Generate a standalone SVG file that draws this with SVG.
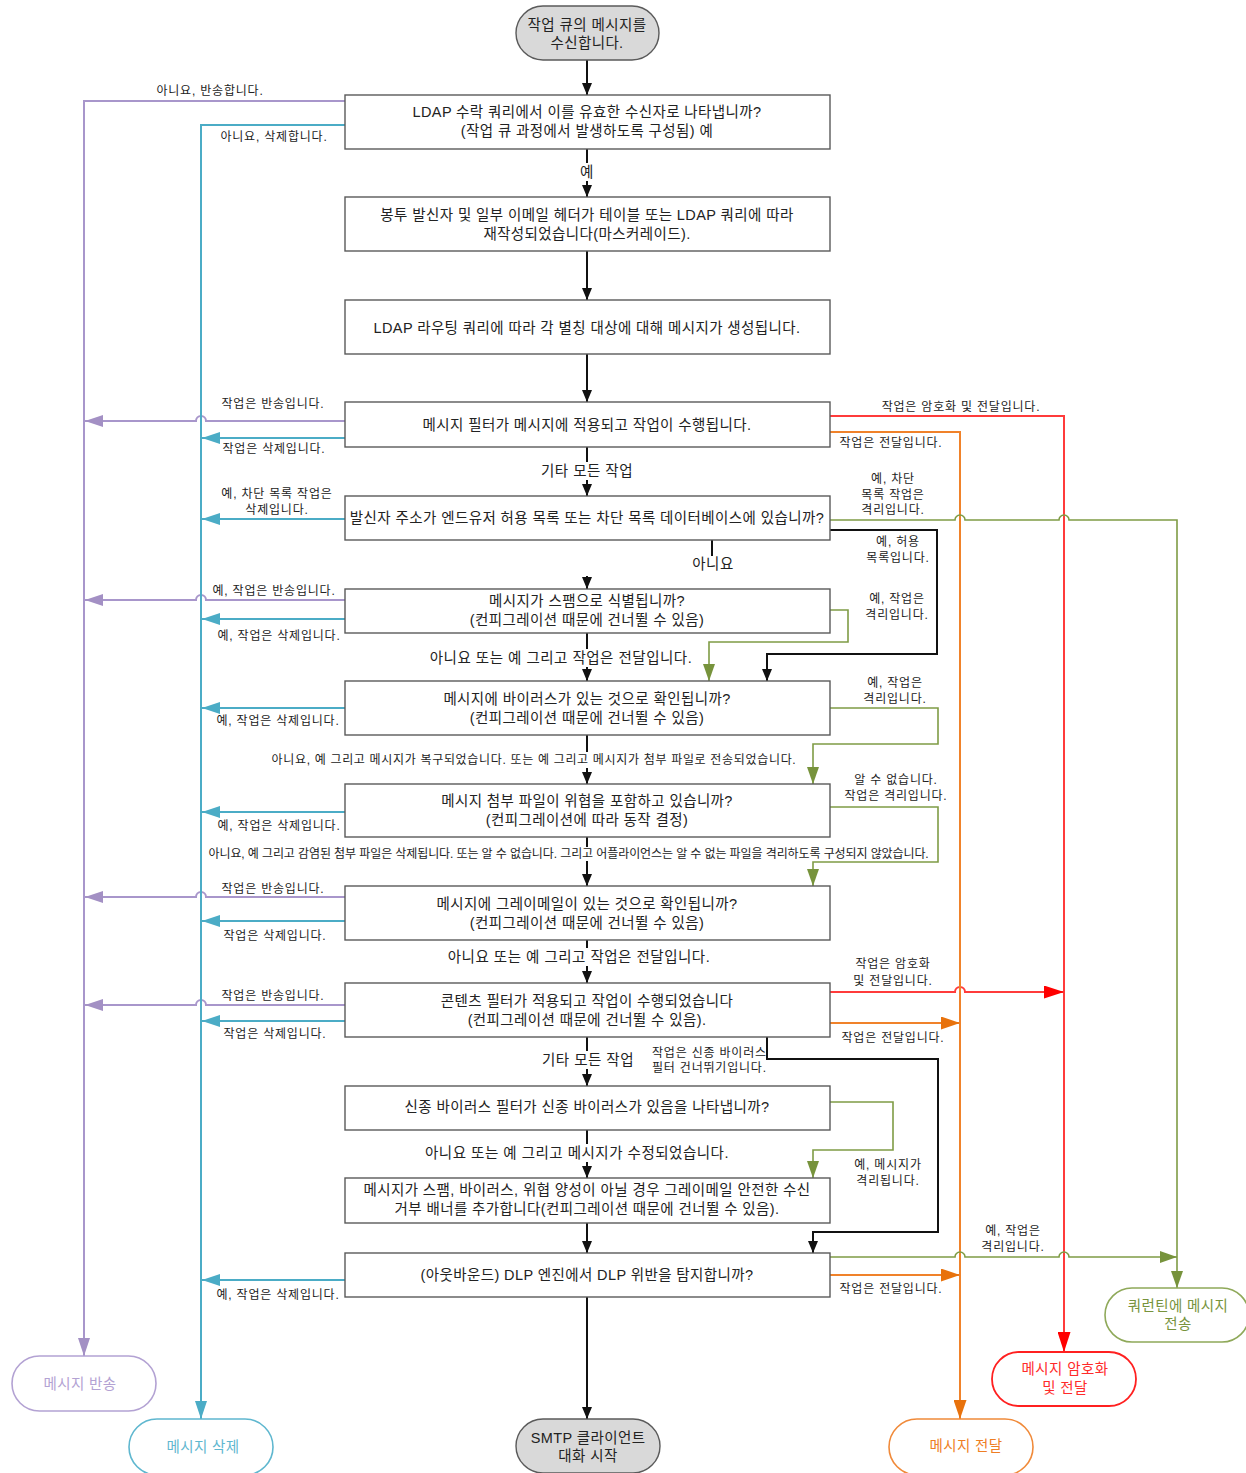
<svg xmlns="http://www.w3.org/2000/svg" width="1246" height="1473" viewBox="0 0 1246 1473">
  <style>
    text { font-family: "Liberation Sans", "Noto Sans CJK KR", sans-serif; fill: #222; }
    .box { fill: #fff; stroke: #5a5a5a; stroke-width: 1.4; }
    .term { fill: #d9d9d9; stroke: #5a5a5a; stroke-width: 1.4; }
    .t { font-size: 14.5px; letter-spacing: 0.4px; text-anchor: middle; }
    .lbl { font-size: 12px; letter-spacing: 0.8px; }
    .mid { font-size: 14.5px; letter-spacing: 0.5px; text-anchor: middle; }
    .c { text-anchor: middle; }
    .bg { fill: #fff; }
    .k { fill: none; stroke: #111; stroke-width: 2; }
    .pu { fill: none; stroke: #a896cb; stroke-width: 2; }
    .bl { fill: none; stroke: #4bacc6; stroke-width: 2; }
    .rd { fill: none; stroke: #ff3b3b; stroke-width: 2; }
    .or { fill: none; stroke: #f0822a; stroke-width: 2; }
    .gr { fill: none; stroke: #7f9c45; stroke-width: 1.6; }
  </style>
  <defs>
    <marker id="aK" markerUnits="userSpaceOnUse" markerWidth="12" markerHeight="10" refX="12" refY="5" orient="auto">
      <path d="M0,0 L12,5 L0,10 z" fill="#111"/>
    </marker>
    <marker id="aP" markerUnits="userSpaceOnUse" markerWidth="18" markerHeight="12" refX="18" refY="6" orient="auto">
      <path d="M0,0 L18,6 L0,12 z" fill="#a390c4"/>
    </marker>
    <marker id="aB" markerUnits="userSpaceOnUse" markerWidth="18" markerHeight="12" refX="18" refY="6" orient="auto">
      <path d="M0,0 L18,6 L0,12 z" fill="#4bacc6"/>
    </marker>
    <marker id="aR" markerUnits="userSpaceOnUse" markerWidth="20" markerHeight="13" refX="20" refY="6.5" orient="auto">
      <path d="M0,0 L20,6.5 L0,13 z" fill="#ff0000"/>
    </marker>
    <marker id="aO" markerUnits="userSpaceOnUse" markerWidth="19" markerHeight="13" refX="19" refY="6.5" orient="auto">
      <path d="M0,0 L19,6.5 L0,13 z" fill="#e8720c"/>
    </marker>
    <marker id="aG" markerUnits="userSpaceOnUse" markerWidth="17" markerHeight="12" refX="17" refY="6" orient="auto">
      <path d="M0,0 L17,6 L0,12 z" fill="#77933c"/>
    </marker>
  </defs>

  <rect width="1246" height="1473" fill="#fff"/>

  <!-- connectors -->
  <g id="connectors">
    <!-- main flow (black) -->
    <path class="k" d="M587,60 V95" marker-end="url(#aK)"/>
    <path class="k" d="M587,149 V197" marker-end="url(#aK)"/>
    <path class="k" d="M587,251 V300" marker-end="url(#aK)"/>
    <path class="k" d="M587,354 V402" marker-end="url(#aK)"/>
    <path class="k" d="M587,447 V496" marker-end="url(#aK)"/>
    <path class="k" d="M712,540 V556"/>
    <path class="k" d="M587,576 V589" marker-end="url(#aK)"/>
    <path class="k" d="M587,633 V681" marker-end="url(#aK)"/>
    <path class="k" d="M587,735 V784" marker-end="url(#aK)"/>
    <path class="k" d="M587,837 V886" marker-end="url(#aK)"/>
    <path class="k" d="M587,940 V983" marker-end="url(#aK)"/>
    <path class="k" d="M587,1037 V1086" marker-end="url(#aK)"/>
    <path class="k" d="M587,1130 V1178" marker-end="url(#aK)"/>
    <path class="k" d="M587,1223 V1253" marker-end="url(#aK)"/>
    <path class="k" d="M587,1297 V1419" marker-end="url(#aK)"/>
    <!-- allow list: skip spam check -->
    <path class="k" d="M830,530 H937 V654 H767 V681" marker-end="url(#aK)"/>
    <!-- skip outbreak filter -->
    <path class="k" d="M767,1037 V1059 H938 V1232 H813 V1253" marker-end="url(#aK)"/>

    <!-- bounce (purple) -->
    <path class="pu" d="M345,101 H84 V1356" marker-end="url(#aP)"/>
    <path class="pu" d="M345,421 H206 A5,5 0 0 0 196,421 H85" marker-end="url(#aP)"/>
    <path class="pu" d="M345,600 H206 A5,5 0 0 0 196,600 H85" marker-end="url(#aP)"/>
    <path class="pu" d="M345,897 H206 A5,5 0 0 0 196,897 H85" marker-end="url(#aP)"/>
    <path class="pu" d="M345,1005 H206 A5,5 0 0 0 196,1005 H85" marker-end="url(#aP)"/>

    <!-- delete (blue) -->
    <path class="bl" d="M345,125 H201 V1419" marker-end="url(#aB)"/>
    <path class="bl" d="M345,438 H202" marker-end="url(#aB)"/>
    <path class="bl" d="M345,519 H202" marker-end="url(#aB)"/>
    <path class="bl" d="M345,619 H202" marker-end="url(#aB)"/>
    <path class="bl" d="M345,708 H202" marker-end="url(#aB)"/>
    <path class="bl" d="M345,812 H202" marker-end="url(#aB)"/>
    <path class="bl" d="M345,921 H202" marker-end="url(#aB)"/>
    <path class="bl" d="M345,1021 H202" marker-end="url(#aB)"/>
    <path class="bl" d="M345,1280 H202" marker-end="url(#aB)"/>

    <!-- encrypt and deliver (red) -->
    <path class="rd" d="M830,416 H1064 V1352" marker-end="url(#aR)"/>
    <path class="rd" d="M830,992 H955 A5,5 0 0 1 965,992 H1064" marker-end="url(#aR)"/>

    <!-- deliver (orange) -->
    <path class="or" d="M830,432 H960 V1419" marker-end="url(#aO)"/>
    <path class="or" d="M830,1023 H960" marker-end="url(#aO)"/>
    <path class="or" d="M830,1275 H960" marker-end="url(#aO)"/>

    <!-- quarantine (green) -->
    <path class="gr" d="M830,520 H955 A5,5 0 0 1 965,520 H1059 A5,5 0 0 1 1069,520 H1177 V1288" marker-end="url(#aG)"/>
    <path class="gr" d="M830,610 H848 V642 H709 V681" marker-end="url(#aG)"/>
    <path class="gr" d="M830,708 H938 V744 H813 V784" marker-end="url(#aG)"/>
    <path class="gr" d="M830,807 H938 V862 H813 V886" marker-end="url(#aG)"/>
    <path class="gr" d="M830,1102 H893 V1150 H813 V1178" marker-end="url(#aG)"/>
    <path class="gr" d="M830,1257 H955 A5,5 0 0 1 965,1257 H1059 A5,5 0 0 1 1069,1257 H1177" marker-end="url(#aG)"/>

    <!-- connector labels: main flow -->
    <rect class="bg" x="579" y="163" width="16" height="18"/>
    <text class="mid" x="587" y="177">예</text>
    <rect class="bg" x="538" y="462" width="100" height="18"/>
    <text class="mid" x="587" y="476">기타 모든 작업</text>
    <text class="mid" x="713" y="569">아니요</text>
    <rect class="bg" x="427" y="649" width="268" height="18"/>
    <text class="mid" x="561" y="663">아니요 또는 예 그리고 작업은 전달입니다.</text>
    <rect class="bg" x="268" y="752" width="533" height="16"/>
    <text class="lbl c" x="534" y="764" textLength="525" lengthAdjust="spacing">아니요, 예 그리고 메시지가 복구되었습니다. 또는 예 그리고 메시지가 첨부 파일로 전송되었습니다.</text>
    <rect class="bg" x="206" y="847" width="727" height="14"/>
    <text class="lbl c" x="569" y="858" textLength="721" lengthAdjust="spacing">아니요, 예 그리고 감염된 첨부 파일은 삭제됩니다. 또는 알 수 없습니다. 그리고 어플라이언스는 알 수 없는 파일을 격리하도록 구성되지 않았습니다.</text>
    <rect class="bg" x="445" y="948" width="268" height="18"/>
    <text class="mid" x="579" y="962">아니요 또는 예 그리고 작업은 전달입니다.</text>
    <rect class="bg" x="538" y="1051" width="100" height="18"/>
    <text class="mid" x="588" y="1065">기타 모든 작업</text>
    <rect class="bg" x="423" y="1144" width="309" height="18"/>
    <text class="mid" x="577" y="1158">아니요 또는 예 그리고 메시지가 수정되었습니다.</text>

    <!-- connector labels: left side -->
    <text class="lbl c" x="210" y="95">아니요, 반송합니다.</text>
    <text class="lbl c" x="274" y="141">아니요, 삭제합니다.</text>
    <text class="lbl c" x="273" y="408">작업은 반송입니다.</text>
    <text class="lbl c" x="274" y="453">작업은 삭제입니다.</text>
    <text class="lbl c" x="277" y="498">예, 차단 목록 작업은</text>
    <text class="lbl c" x="277" y="514">삭제입니다.</text>
    <text class="lbl c" x="274" y="595">예, 작업은 반송입니다.</text>
    <text class="lbl c" x="279" y="640">예, 작업은 삭제입니다.</text>
    <text class="lbl c" x="278" y="725">예, 작업은 삭제입니다.</text>
    <text class="lbl c" x="279" y="830">예, 작업은 삭제입니다.</text>
    <text class="lbl c" x="273" y="893">작업은 반송입니다.</text>
    <text class="lbl c" x="275" y="940">작업은 삭제입니다.</text>
    <text class="lbl c" x="273" y="1000">작업은 반송입니다.</text>
    <text class="lbl c" x="275" y="1038">작업은 삭제입니다.</text>
    <text class="lbl c" x="278" y="1299">예, 작업은 삭제입니다.</text>

    <!-- connector labels: right side -->
    <text class="lbl c" x="961" y="411">작업은 암호화 및 전달입니다.</text>
    <text class="lbl c" x="891" y="447">작업은 전달입니다.</text>
    <text class="lbl c" x="893" y="483">예, 차단</text>
    <text class="lbl c" x="893" y="499">목록 작업은</text>
    <text class="lbl c" x="893" y="514">격리입니다.</text>
    <text class="lbl c" x="898" y="546">예, 허용</text>
    <text class="lbl c" x="898" y="562">목록입니다.</text>
    <text class="lbl c" x="897" y="603">예, 작업은</text>
    <text class="lbl c" x="897" y="619">격리입니다.</text>
    <text class="lbl c" x="895" y="687">예, 작업은</text>
    <text class="lbl c" x="895" y="703">격리입니다.</text>
    <text class="lbl c" x="896" y="784">알 수 없습니다.</text>
    <text class="lbl c" x="896" y="800">작업은 격리입니다.</text>
    <text class="lbl c" x="893" y="968">작업은 암호화</text>
    <text class="lbl c" x="893" y="985">및 전달입니다.</text>
    <text class="lbl c" x="893" y="1042">작업은 전달입니다.</text>
    <text class="lbl" x="652" y="1057">작업은 신종 바이러스</text>
    <text class="lbl" x="652" y="1072">필터 건너뛰기입니다.</text>
    <text class="lbl c" x="888" y="1169">예, 메시지가</text>
    <text class="lbl c" x="888" y="1185">격리됩니다.</text>
    <text class="lbl c" x="1013" y="1235">예, 작업은</text>
    <text class="lbl c" x="1013" y="1251">격리입니다.</text>
    <text class="lbl c" x="891" y="1293">작업은 전달입니다.</text>
  </g>

  <!-- nodes -->
  <g id="start">
    <rect class="term" x="516" y="6" width="143" height="54" rx="27"/>
    <text class="t" x="587" y="30">작업 큐의 메시지를</text>
    <text class="t" x="587" y="48">수신합니다.</text>
  </g>
  <g id="ldap-accept">
    <rect class="box" x="345" y="95" width="485" height="54"/>
    <text class="t" x="587" y="117">LDAP 수락 쿼리에서 이를 유효한 수신자로 나타냅니까?</text>
    <text class="t" x="587" y="136">(작업 큐 과정에서 발생하도록 구성됨) 예</text>
  </g>
  <g id="masquerade">
    <rect class="box" x="345" y="197" width="485" height="54"/>
    <text class="t" x="587" y="220">봉투 발신자 및 일부 이메일 헤더가 테이블 또는 LDAP 쿼리에 따라</text>
    <text class="t" x="587" y="239">재작성되었습니다(마스커레이드).</text>
  </g>
  <g id="ldap-routing">
    <rect class="box" x="345" y="300" width="485" height="54"/>
    <text class="t" x="587" y="333">LDAP 라우팅 쿼리에 따라 각 별칭 대상에 대해 메시지가 생성됩니다.</text>
  </g>
  <g id="message-filter">
    <rect class="box" x="345" y="402" width="485" height="45"/>
    <text class="t" x="587" y="430">메시지 필터가 메시지에 적용되고 작업이 수행됩니다.</text>
  </g>
  <g id="safelist-blocklist">
    <rect class="box" x="345" y="496" width="485" height="44"/>
    <text class="t" x="587" y="523">발신자 주소가 엔드유저 허용 목록 또는 차단 목록 데이터베이스에 있습니까?</text>
  </g>
  <g id="antispam">
    <rect class="box" x="345" y="589" width="485" height="44"/>
    <text class="t" x="587" y="606">메시지가 스팸으로 식별됩니까?</text>
    <text class="t" x="587" y="625">(컨피그레이션 때문에 건너뛸 수 있음)</text>
  </g>
  <g id="antivirus">
    <rect class="box" x="345" y="681" width="485" height="54"/>
    <text class="t" x="587" y="704">메시지에 바이러스가 있는 것으로 확인됩니까?</text>
    <text class="t" x="587" y="723">(컨피그레이션 때문에 건너뛸 수 있음)</text>
  </g>
  <g id="amp">
    <rect class="box" x="345" y="784" width="485" height="53"/>
    <text class="t" x="587" y="806">메시지 첨부 파일이 위협을 포함하고 있습니까?</text>
    <text class="t" x="587" y="825">(컨피그레이션에 따라 동작 결정)</text>
  </g>
  <g id="graymail">
    <rect class="box" x="345" y="886" width="485" height="54"/>
    <text class="t" x="587" y="909">메시지에 그레이메일이 있는 것으로 확인됩니까?</text>
    <text class="t" x="587" y="928">(컨피그레이션 때문에 건너뛸 수 있음)</text>
  </g>
  <g id="content-filter">
    <rect class="box" x="345" y="983" width="485" height="54"/>
    <text class="t" x="587" y="1006">콘텐츠 필터가 적용되고 작업이 수행되었습니다</text>
    <text class="t" x="587" y="1025">(컨피그레이션 때문에 건너뛸 수 있음).</text>
  </g>
  <g id="outbreak-filter">
    <rect class="box" x="345" y="1086" width="485" height="44"/>
    <text class="t" x="587" y="1112">신종 바이러스 필터가 신종 바이러스가 있음을 나타냅니까?</text>
  </g>
  <g id="graymail-banner">
    <rect class="box" x="345" y="1178" width="485" height="45"/>
    <text class="t" x="587" y="1195">메시지가 스팸, 바이러스, 위협 양성이 아닐 경우 그레이메일 안전한 수신</text>
    <text class="t" x="587" y="1214">거부 배너를 추가합니다(컨피그레이션 때문에 건너뛸 수 있음).</text>
  </g>
  <g id="dlp">
    <rect class="box" x="345" y="1253" width="485" height="44"/>
    <text class="t" x="587" y="1280">(아웃바운드) DLP 엔진에서 DLP 위반을 탐지합니까?</text>
  </g>
  <g id="smtp-client">
    <rect class="term" x="516" y="1419" width="144" height="54" rx="27"/>
    <text class="t" x="588" y="1443">SMTP 클라이언트</text>
    <text class="t" x="588" y="1461">대화 시작</text>
  </g>
  <g id="bounce">
    <rect x="12" y="1356" width="144" height="55" rx="27.5" fill="#fff" stroke="#b3a2d3" stroke-width="1.6"/>
    <text class="t" x="80" y="1389" style="fill:#b3a2d3">메시지 반송</text>
  </g>
  <g id="delete">
    <rect x="129" y="1419" width="144" height="56" rx="28" fill="#fff" stroke="#5fb7cf" stroke-width="1.6"/>
    <text class="t" x="203" y="1452" style="fill:#5fb7cf">메시지 삭제</text>
  </g>
  <g id="deliver">
    <rect x="889" y="1419" width="144" height="56" rx="28" fill="#fff" stroke="#f08a3a" stroke-width="1.6"/>
    <text class="t" x="966" y="1451" style="fill:#ee7e24">메시지 전달</text>
  </g>
  <g id="encrypt">
    <rect x="992" y="1352" width="144" height="54" rx="27" fill="#fff" stroke="#ff2020" stroke-width="1.8"/>
    <text class="t" x="1065" y="1374" style="fill:#ff2a2a">메시지 암호화</text>
    <text class="t" x="1065" y="1393" style="fill:#ff2a2a">및 전달</text>
  </g>
  <g id="quarantine">
    <rect x="1105" y="1288" width="144" height="54" rx="27" fill="#fff" stroke="#8fa95a" stroke-width="1.6"/>
    <text class="t" x="1178" y="1311" style="fill:#77933c">쿼런틴에 메시지</text>
    <text class="t" x="1178" y="1329" style="fill:#77933c">전송</text>
  </g>
</svg>
